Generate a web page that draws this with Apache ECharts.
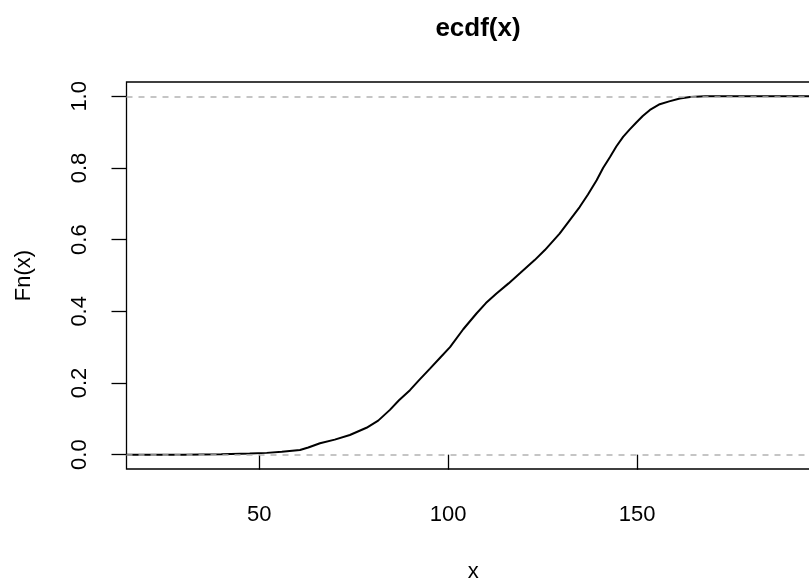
<!DOCTYPE html>
<html>
<head>
<meta charset="utf-8">
<script src="https://cdn.jsdelivr.net/npm/echarts@6/dist/echarts.min.js"></script>
<style>
html,body{margin:0;padding:0;background:#fff;}
#chart{width:809px;height:585px;}
</style>
</head>
<body>
<div id="chart"></div>
<script>
// ECDF curve (x, Fn(x))
var xValues = [15, 30, 40, 47.5, 52, 56, 60.8, 63, 66.1, 70, 74, 78.4, 81.5, 84.6, 87, 89.9, 92.5, 95.2, 98, 100.5, 104, 107.5, 110, 112.8, 116, 119, 122.9, 125.6, 129.5, 132, 134.8, 137, 139.3, 141, 142.8, 144.5, 146.3, 148, 149.8, 151.5, 153.4, 156, 158.5, 161.3, 164, 168, 198.4];
var fnValues = [0, 0, 0.001, 0.003, 0.005, 0.008, 0.013, 0.02, 0.032, 0.042, 0.055, 0.075, 0.095, 0.125, 0.152, 0.18, 0.21, 0.24, 0.272, 0.30, 0.35, 0.394, 0.423, 0.45, 0.478, 0.506, 0.543, 0.571, 0.617, 0.652, 0.691, 0.726, 0.766, 0.80, 0.83, 0.86, 0.887, 0.907, 0.927, 0.945, 0.962, 0.978, 0.986, 0.994, 0.998, 1.0, 1.0];
var xTicks = [50, 100, 150];
var yTicks = [0, 0.2, 0.4, 0.6, 0.8, 1.0];
var refLines = [0, 1];
var titleText = 'ecdf(x)';
var xName = 'x';
var yName = 'Fn(x)';

var pts = xValues.map(function (v, i) { return [v, fnValues[i]]; });
var font = 'Liberation Sans, Arial, Helvetica, sans-serif';

var chart = echarts.init(document.getElementById('chart'), null, {renderer: 'canvas'});
chart.setOption({
  animation: false,
  backgroundColor: '#ffffff',
  title: {
    text: titleText,
    left: 473,
    top: 11,
    textAlign: 'center',
    textStyle: {fontFamily: font, fontSize: 26, fontWeight: 'bold', color: '#000'}
  },
  grid: {
    left: 126.5, top: 82, right: -11, bottom: 116,
    outerBoundsMode: 'none',
    containLabel: false,
    show: true, borderColor: '#000', borderWidth: 1.3, backgroundColor: 'transparent'
  },
  xAxis: {
    type: 'value',
    min: 14.9, max: 198.4,
    name: xName,
    nameLocation: 'middle',
    nameGap: 92,
    nameTextStyle: {fontFamily: font, fontSize: 22, color: '#000'},
    axisLine: {show: false},
    axisTick: {show: true, inside: false, length: 15, customValues: xTicks, lineStyle: {color: '#000', width: 1.3}},
    axisLabel: {show: true, margin: 35, customValues: xTicks, fontFamily: font, fontSize: 22, color: '#000'},
    splitLine: {show: false}
  },
  yAxis: {
    type: 'value',
    min: -0.04, max: 1.04,
    name: yName,
    nameLocation: 'middle',
    nameRotate: 90,
    nameGap: 92,
    nameTextStyle: {fontFamily: font, fontSize: 22, color: '#000'},
    axisLine: {show: false},
    axisTick: {show: true, inside: false, length: 15, customValues: yTicks, lineStyle: {color: '#000', width: 1.3}},
    axisLabel: {
      show: true, margin: 36, rotate: 90, customValues: yTicks,
      fontFamily: font, fontSize: 22, color: '#000',
      formatter: function (v) { return v.toFixed(1); }
    },
    splitLine: {show: false}
  },
  series: [
    {
      type: 'line',
      data: pts,
      showSymbol: false,
      symbol: 'none',
      lineStyle: {color: '#000', width: 2},
      z: 2,
      silent: true
    },
    {
      type: 'line',
      data: [],
      z: 3,
      silent: true,
      markLine: {
        silent: true,
        symbol: ['none', 'none'],
        label: {show: false},
        lineStyle: {color: '#b3b3b3', type: [6, 6], width: 1.5},
        data: refLines.map(function (v) { return {yAxis: v}; })
      }
    }
  ]
});
</script>
</body>
</html>
